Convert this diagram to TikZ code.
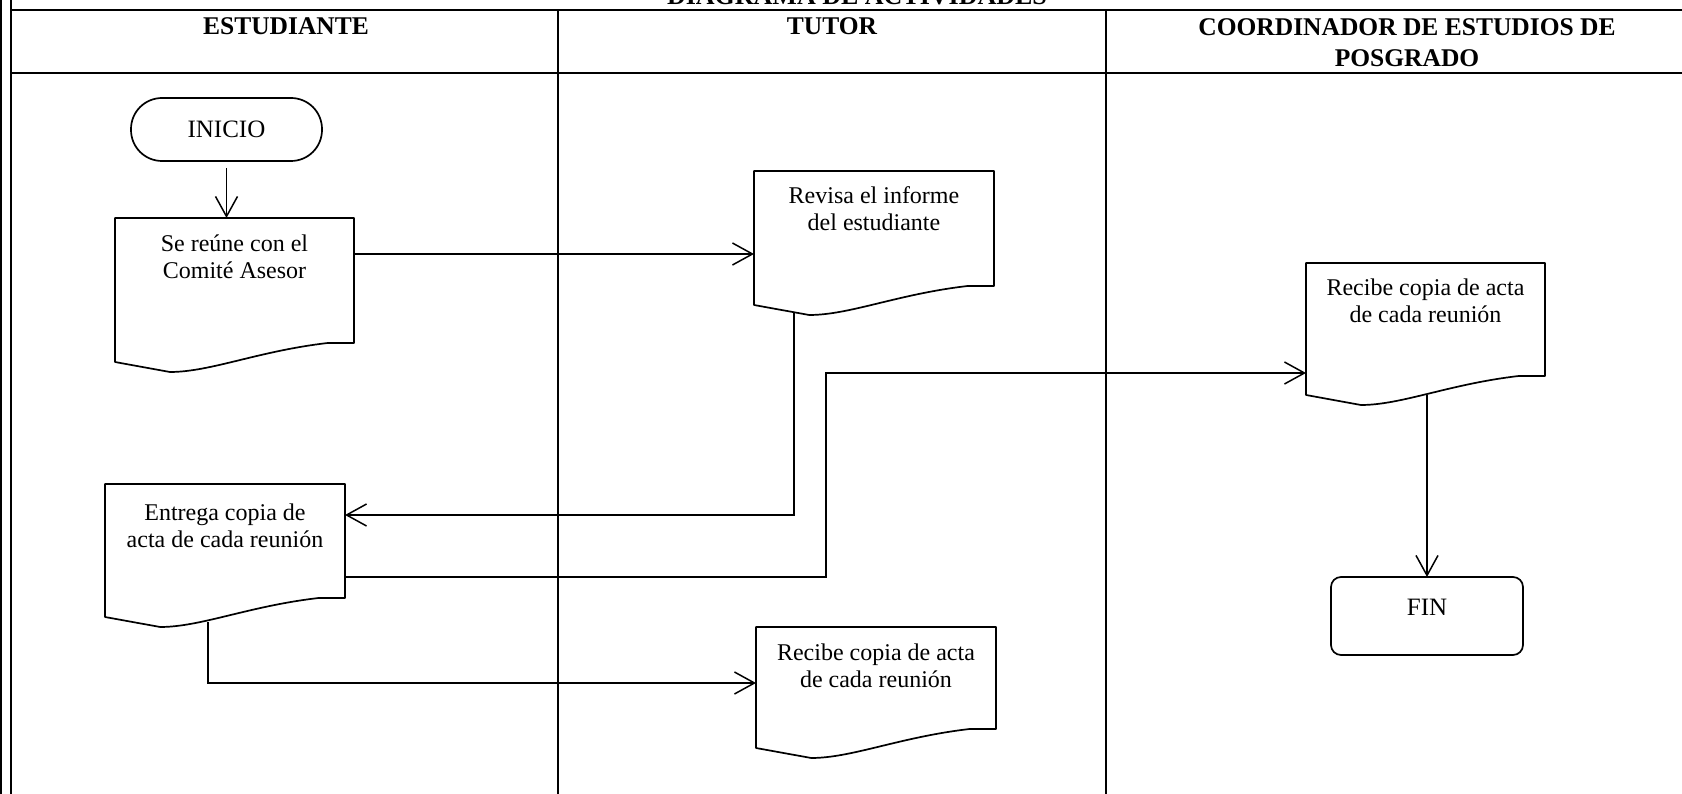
\documentclass[tikz,border=0pt]{standalone}
\usepackage{fontspec}
\setmainfont{Liberation Serif}
\usetikzlibrary{arrows.meta,calc}

\tikzset{
  hdr/.style={line width=2.5pt},
  lane/.style={line width=1.8pt},
  shp/.style={line width=1.7pt, line join=round},
  conn/.style={line width=1.5pt, -{Straight Barb[length=20pt,width=22pt,line width=1.5pt]}},
  box/.style={inner sep=0pt, outer sep=0pt, anchor=north west, font=\fontsize{24}{27}\selectfont},
  head/.style={font=\bfseries\fontsize{25.5}{31}\selectfont, align=center, inner sep=0pt},
}
\newcommand\doctext[4]{\parbox[c][#2][t]{#1}{\centering\rule{0pt}{#3}#4}}
\newcommand\docoutline[1]{%
  \draw[shp] (#1.south east) -- (#1.north east) -- (#1.north west)
    -- ($(#1.south west)+(0pt,-19pt)$)
    -- ($(#1.south west)!0.23!(#1.south east)+(0pt,-29pt)$)
    .. controls ($(#1.south west)!0.4!(#1.south east)+(0pt,-29pt)$)
    and ($(#1.south west)!0.6!(#1.south east)+(0pt,-8pt)$)
    .. ($(#1.south west)!0.89!(#1.south east)$) -- cycle;}

\begin{document}
\begin{tikzpicture}[x=1pt,y=-1pt]
\path[use as bounding box] (0,0) rectangle (1682,794);
\clip (0,0) rectangle (1682,794);

% frame and lanes
\draw[line width=2pt] (1,0) -- (1,794);
\draw[line width=2.4pt] (11,0) -- (11,794);
\draw[hdr] (11,10) -- (1682,10);
\draw[hdr] (11,73) -- (1682,73);
\draw[lane] (558,10) -- (558,794);
\draw[lane] (1106,10) -- (1106,794);

% titles
\node[head, font=\bfseries\fontsize{26}{30}\selectfont, anchor=base] (title) at (857,4.5) {DIAGRAMA DE ACTIVIDADES};
\node[head, anchor=base] (h1) at (286,35) {ESTUDIANTE};
\node[head, anchor=base] (h2) at (832,35) {TUTOR};
\node[head, anchor=north] (h3) at (1407,18.5) {COORDINADOR DE ESTUDIOS DE\\POSGRADO};

% nodes
\node[draw, shp, rounded corners=31pt, minimum width=191pt, minimum height=63pt,
      inner sep=0pt, font=\fontsize{25}{30}\selectfont] (inicio) at (226.5,129.5) {INICIO};

\node[box] (doc1) at (115,218) {\doctext{239pt}{125pt}{34pt}{Se reúne con el\\Comité Asesor}};
\docoutline{doc1}
\node[box] (doc2) at (754,171) {\doctext{240pt}{115pt}{33pt}{Revisa el informe\\del estudiante}};
\docoutline{doc2}
\node[box] (doc3) at (1306,263) {\doctext{239pt}{113pt}{33pt}{Recibe copia de acta\\de cada reunión}};
\docoutline{doc3}
\node[box] (doc4) at (105,484) {\doctext{240pt}{114pt}{36pt}{Entrega copia de\\acta de cada reunión}};
\docoutline{doc4}
\node[box] (doc5) at (756,627) {\doctext{240pt}{102pt}{33pt}{Recibe copia de acta\\de cada reunión}};
\docoutline{doc5}

\node[box, draw, shp, rounded corners=10pt, font=\fontsize{25}{30}\selectfont] (fin) at (1331,577)
  {\doctext{192pt}{78pt}{38pt}{FIN}};

% connectors
\draw[conn] ($(inicio.south)+(0pt,-6pt)$) -- (inicio.south |- doc1.north);

\coordinate (a12) at (0,254);
\draw[conn] (doc1.east |- a12) -- (doc2.west |- a12);

\coordinate (k24) at (794,515);
\draw[conn] ($(doc2.south -| k24)+(0pt,-26pt)$) -- (k24) -- (doc4.east |- k24);

\coordinate (k43a) at (826,577);
\coordinate (k43b) at (826,373);
\draw[conn] (doc4.east |- k43a) -- (k43a) -- (k43b) -- (doc3.west |- k43b);

\coordinate (k45) at (208,683);
\draw[conn] ($(doc4.south -| k45)+(0pt,-24pt)$) -- (k45) -- (doc5.west |- k45);

\coordinate (k3f) at (1427,577);
\draw[conn] ($(doc3.south -| k3f)+(0pt,-19pt)$) -- (k3f |- fin.north);
\end{tikzpicture}
\end{document}
